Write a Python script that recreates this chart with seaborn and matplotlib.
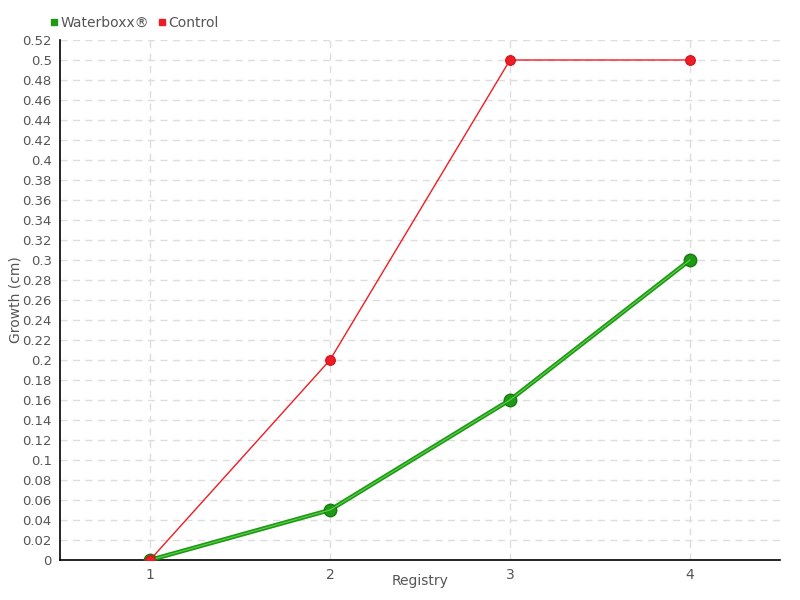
import matplotlib
matplotlib.use("Agg")
import matplotlib.pyplot as plt
import seaborn as sns
import pandas as pd
import numpy as np
from matplotlib.lines import Line2D

registry = [1, 2, 3, 4]
waterboxx = [0, 0.05, 0.16, 0.30]
control = [0, 0.20, 0.50, 0.50]
series_names = ["Waterboxx®", "Control"]
y_ticks = [round(i * 0.02, 2) for i in range(27)]

sns.set_style("white")
plt.rcParams['font.family'] = ['DejaVu Sans']

df = pd.DataFrame({
    "Registry": registry * 2,
    "Growth": waterboxx + control,
    "Series": [series_names[0]] * 4 + [series_names[1]] * 4,
})

fig = plt.figure(figsize=(8, 6), dpi=100)
ax = fig.add_axes([60/800, 40/600, 720/800, 520/600])

green = "#1e9a14"
red = "#ee1c25"

wb = df[df.Series == series_names[0]]
ct = df[df.Series == series_names[1]]

sns.lineplot(data=wb, x="Registry", y="Growth", ax=ax, color=green, linewidth=3.2,
             marker="o", markersize=9, markeredgecolor="#197a12", markeredgewidth=1, zorder=3)
sns.lineplot(data=wb, x="Registry", y="Growth", ax=ax, color="#5fd04f", linewidth=0.8, zorder=3.1)
sns.lineplot(data=ct, x="Registry", y="Growth", ax=ax, color=red, linewidth=1,
             marker="o", markersize=7, markeredgecolor="#d0101a", markeredgewidth=0.8, zorder=4)

ax.set_xlim(0.5, 4.5)
ax.set_ylim(0, 0.52)
ax.set_xticks(registry)
ax.set_xticklabels([str(r) for r in registry])
ax.set_yticks(y_ticks)
ax.set_yticklabels([("%g" % t) for t in y_ticks])

ax.grid(True, color="#dddddd", linestyle=(0, (5, 4)), linewidth=1)
ax.set_axisbelow(True)
for s in ["top", "right"]:
    ax.spines[s].set_visible(False)
for s in ["left", "bottom"]:
    ax.spines[s].set_color("black")
    ax.spines[s].set_linewidth(1.2)

ax.tick_params(axis="y", direction="out", length=4, width=1, color="black", labelsize=9.5, labelcolor="#555555", pad=2)
ax.tick_params(axis="x", direction="out", length=5, width=1, color="#666666", labelsize=10, labelcolor="#555555", pad=1)

ax.set_xlabel("Registry", fontsize=10, color="#555555")
ax.set_ylabel("Growth (cm)", fontsize=10, color="#555555")
ax.xaxis.set_label_coords(0.5, (560 - 581) / 520)
ax.xaxis.label.set_va("center")
ax.yaxis.set_label_coords((16 - 60) / 720, 0.5)
ax.yaxis.label.set_va("center")

handles = [
    Line2D([0], [0], marker="s", linestyle="none", color="#1e9a14", markersize=5),
    Line2D([0], [0], marker="s", linestyle="none", color=red, markersize=5),
]
ax.legend(handles, series_names, loc="lower left", bbox_to_anchor=(-0.03, 1.0), ncol=2,
          frameon=False, fontsize=10, handletextpad=0.1, columnspacing=0.5,
          handlelength=0.8, borderaxespad=0.3, labelcolor="#555555")

fig.savefig("out.png", dpi=100)
